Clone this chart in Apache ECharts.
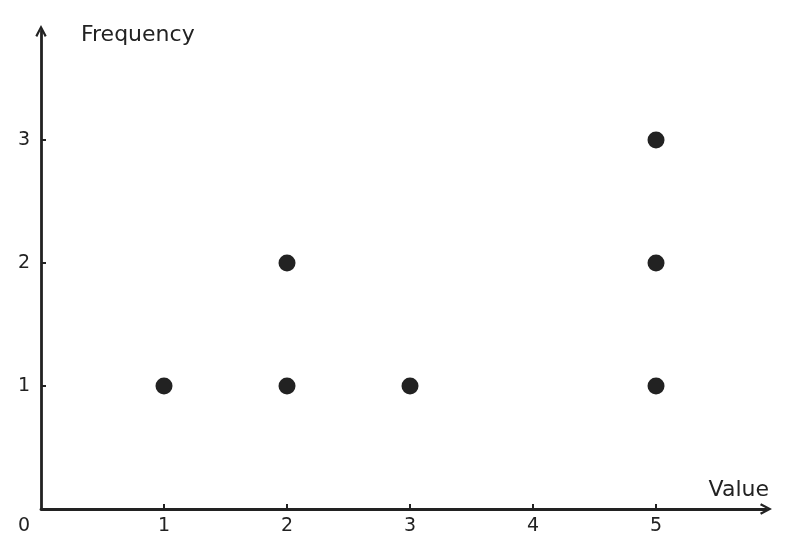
<!DOCTYPE html>
<html><head><meta charset="utf-8">
<script src="https://cdn.jsdelivr.net/npm/echarts@6/dist/echarts.min.js"></script>
<style>html,body{margin:0;padding:0;background:#fff}#c{width:796px;height:557px}</style>
</head><body><div id="c"></div>
<script>
const xValues = [1, 2, 2, 3, 5, 5, 5];
const yValues = [1, 1, 2, 1, 1, 2, 3];
const xTicks = [0, 1, 2, 3, 4, 5];
const yTicks = [1, 2, 3];
const xName = 'Value';
const yName = 'Frequency';

const points = xValues.map((x, i) => [x, yValues[i]]);
const ink = '#222222';
const font = 'DejaVu Sans';
const chevron = 'path://M0,9.6 L5,0 L10,9.6 L8.3,10.6 L5,4 L1.7,10.6 Z';

const chart = echarts.init(document.getElementById('c'), null, {renderer: 'canvas'});
chart.setOption({
  animation: false,
  grid: {left: 41, right: 30, top: 31, bottom: 48, containLabel: false, outerBoundsMode: 'none'},
  xAxis: {
    type: 'value', min: 0, max: 5.894, interval: 1,
    name: xName, nameLocation: 'end', nameGap: 6,
    nameTextStyle: {fontFamily: font, fontSize: 22, color: ink, align: 'right', verticalAlign: 'bottom', padding: [0, 3, 8, 0]},
    axisLine: {show: true, lineStyle: {color: ink, width: 2.8}, symbol: ['none', chevron], symbolSize: [14, 12]},
    axisTick: {show: true, inside: true, length: 5, lineStyle: {color: ink, width: 2}, customValues: xTicks.filter(v => v > 0)},
    splitLine: {show: false},
    axisLabel: {
      fontFamily: font, fontSize: 19, color: ink, margin: 8,
      customValues: xTicks,
      formatter: v => v === 0 ? '{z|0}' : String(v),
      rich: {z: {fontFamily: font, fontSize: 19, color: ink, padding: [0, 34, 0, 0]}}
    }
  },
  yAxis: {
    type: 'value', min: 0, max: 3.886, interval: 1,
    name: yName, nameLocation: 'end', nameGap: 6,
    nameTextStyle: {fontFamily: font, fontSize: 22, color: ink, align: 'left', verticalAlign: 'top', padding: [-1, 0, 0, 40]},
    axisLine: {show: true, lineStyle: {color: ink, width: 2.8}, symbol: ['none', chevron], symbolSize: [14, 12]},
    axisTick: {show: true, inside: true, length: 5, lineStyle: {color: ink, width: 2}, customValues: yTicks},
    splitLine: {show: false},
    axisLabel: {
      fontFamily: font, fontSize: 19, color: ink, margin: 11,
      customValues: yTicks,
      formatter: v => String(v)
    }
  },
  series: [{
    type: 'scatter', data: points, symbol: 'circle', symbolSize: 17,
    itemStyle: {color: ink, opacity: 1}
  }]
});
</script></body></html>
